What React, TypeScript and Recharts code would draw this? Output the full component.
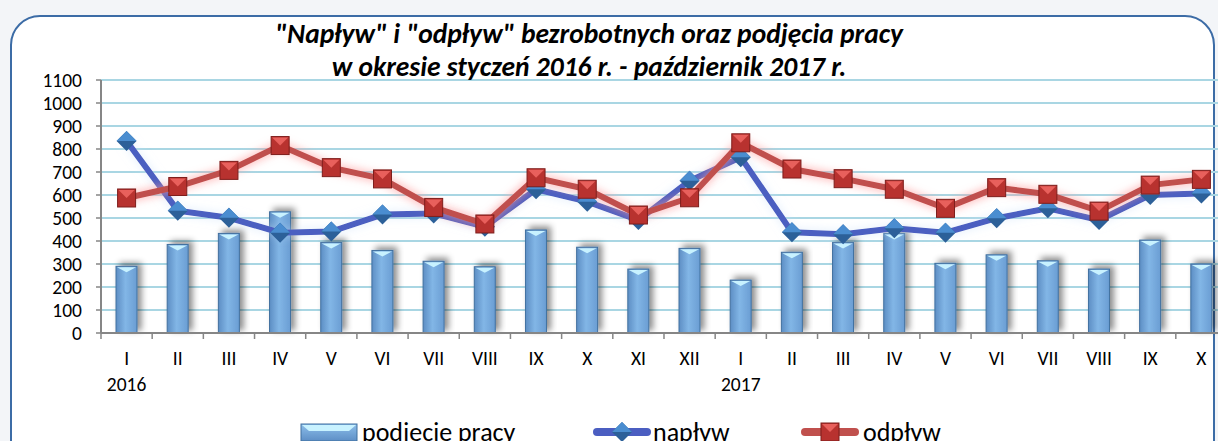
import React from "react";
import { ComposedChart, Bar, Line, XAxis, YAxis, CartesianGrid } from "recharts";

const months = ["I", "II", "III", "IV", "V", "VI", "VII", "VIII", "IX", "X", "XI", "XII",
  "I", "II", "III", "IV", "V", "VI", "VII", "VIII", "IX", "X"];
const years = ["2016", "", "", "", "", "", "", "", "", "", "", "",
  "2017", "", "", "", "", "", "", "", "", ""];
const podjecie = [290, 385, 433, 527, 394, 359, 312, 288, 448, 373, 278, 368,
  230, 351, 394, 433, 303, 340, 314, 278, 404, 300];
const naplyw = [835, 532, 501, 436, 441, 515, 520, 462, 625, 571, 491, 662,
  764, 438, 429, 455, 436, 499, 542, 491, 600, 607];
const odplyw = [587, 637, 707, 815, 719, 670, 546, 474, 675, 625, 513, 588,
  827, 713, 671, 625, 542, 632, 603, 530, 643, 668];
const yTicks = [0, 100, 200, 300, 400, 500, 600, 700, 800, 900, 1000, 1100];

const data = months.map((m, i) => ({
  m,
  year: years[i],
  podjecie: podjecie[i],
  naplyw: naplyw[i],
  odplyw: odplyw[i],
}));

const FONT = "Carlito, 'Liberation Sans', Arial, sans-serif";

function BarShape(props: any) {
  const { x, y, width, height } = props;
  if (!height || height <= 0) return <g />;
  const bev = 6;
  return (
    <g filter="url(#barShadow)">
      <rect x={x} y={y} width={width} height={height} fill="url(#barGrad)" stroke="#41709F" strokeWidth={1} />
      <polygon
        points={`${x + 1},${y + 1} ${x + width - 1},${y + 1} ${x + width / 2},${y + bev}`}
        fill="#C8F2FF"
      />
    </g>
  );
}

function Diamond(props: any) {
  const { cx, cy, index } = props;
  if (cx == null || cy == null) return <g key={`d${index}`} />;
  const r = 10;
  return (
    <g key={`d${index}`}>
      <polygon points={`${cx},${cy - r} ${cx + r},${cy} ${cx},${cy + r} ${cx - r},${cy}`} fill="#2C6099" />
      <polygon points={`${cx},${cy - r} ${cx + r},${cy} ${cx - r},${cy}`} fill="#4A8DD0" />
    </g>
  );
}

function Square(props: any) {
  const { cx, cy, index } = props;
  if (cx == null || cy == null) return <g key={`s${index}`} />;
  const r = 9;
  return (
    <g key={`s${index}`}>
      <rect x={cx - r} y={cy - r} width={2 * r} height={2 * r} fill="#B8322F" stroke="#7E1E1C" strokeWidth={1} />
      <polygon points={`${cx - r + 1},${cy - r + 1} ${cx + r - 1},${cy - r + 1} ${cx},${cy}`} fill="#E8605C" />
    </g>
  );
}

function MonthTick(props: any) {
  const { x, y, payload } = props;
  const i = payload.index;
  const half = 25.6;
  return (
    <g>
      <line x1={x - half} y1={y - 8} x2={x - half} y2={y - 2} stroke="#868686" strokeWidth={1.5} />
      <text x={x} y={y + 24} textAnchor="middle" fontSize={19.5} fontFamily={FONT} fill="#000">
        {payload.value}
      </text>
      {years[i] ? (
        <text x={x} y={y + 50} textAnchor="middle" fontSize={19.5} fontFamily={FONT} fill="#000">
          {years[i]}
        </text>
      ) : null}
    </g>
  );
}

function LegendIcon({ kind }: { kind: string }) {
  if (kind === "bar") {
    return (
      <svg width={58} height={20} style={{ display: "block" }}>
        <rect x={1} y={2} width={56} height={17} fill="url(#legBarGrad)" stroke="#41709F" />
        <polygon points="2,3 56,3 49,9 9,9" fill="#C8F2FF" />
        <defs>
          <linearGradient id="legBarGrad" x1="0" y1="0" x2="0" y2="1">
            <stop offset="0" stopColor="#8CBEEA" />
            <stop offset="1" stopColor="#5E8FC6" />
          </linearGradient>
        </defs>
      </svg>
    );
  }
  const color = kind === "nap" ? "#4B5EC1" : "#C0504D";
  return (
    <svg width={58} height={24} style={{ display: "block" }}>
      <line x1={4} y1={12} x2={54} y2={12} stroke={color} strokeWidth={8} strokeLinecap="round" />
      {kind === "nap" ? (
        <g>
          <polygon points="29,2 39,12 29,22 19,12" fill="#2C6099" />
          <polygon points="29,2 39,12 19,12" fill="#4A8DD0" />
        </g>
      ) : (
        <g>
          <rect x={20} y={3} width={18} height={18} fill="#B8322F" stroke="#7E1E1C" />
          <polygon points="21,4 37,4 29,12" fill="#E8605C" />
        </g>
      )}
    </svg>
  );
}

export default function App() {
  return (
    <div style={{ position: "absolute", left: 0, top: 0, width: 1218, height: 441, overflow: "hidden", background: "#F3F5F8" }}>
      <div
        style={{
          position: "absolute",
          left: 10,
          top: 15,
          width: 1205,
          height: 480,
          border: "2px solid #3C6CA6",
          borderRadius: 30,
          background: "#fff",
          boxSizing: "border-box",
        }}
      />
      <div style={{ position: "absolute", left: 0, top: 0 }}>
        <ComposedChart width={1240} height={441} data={data} margin={{ top: 80, right: 13, left: 0, bottom: 48 }}>
          <defs>
            <linearGradient id="barGrad" x1="0" y1="0" x2="1" y2="0">
              <stop offset="0" stopColor="#5D8EC4" />
              <stop offset="0.45" stopColor="#82B6E6" />
              <stop offset="1" stopColor="#6A9DD3" />
            </linearGradient>
            <filter id="barShadow" x="-50%" y="-20%" width="200%" height="140%">
              <feDropShadow dx={4} dy={-3} stdDeviation={3} floodColor="#000" floodOpacity={0.45} />
            </filter>
            <filter id="redGlow" x="-10%" y="-30%" width="120%" height="160%">
              <feGaussianBlur in="SourceGraphic" stdDeviation={5} result="b" />
              <feColorMatrix in="b" type="matrix" values="0 0 0 0 1  0 0 0 0 0.3  0 0 0 0 0.3  0 0 0 0.9 0" result="g" />
              <feMerge>
                <feMergeNode in="g" />
                <feMergeNode in="SourceGraphic" />
              </feMerge>
            </filter>
            <filter id="blueGlow" x="-10%" y="-30%" width="120%" height="160%">
              <feGaussianBlur in="SourceGraphic" stdDeviation={5} result="b" />
              <feColorMatrix in="b" type="matrix" values="0 0 0 0 0.6  0 0 0 0 0.75  0 0 0 0 0.95  0 0 0 0.6 0" result="g" />
              <feMerge>
                <feMergeNode in="g" />
                <feMergeNode in="SourceGraphic" />
              </feMerge>
            </filter>
          </defs>
          <CartesianGrid vertical={false} stroke="#A9D6E3" strokeWidth={2} />
          <XAxis
            dataKey="m"
            interval={0}
            height={60}
            tickLine={false}
            tick={<MonthTick />}
            axisLine={{ stroke: "#868686", strokeWidth: 2 }}
          />
          <YAxis
            domain={[0, 1100]}
            ticks={yTicks}
            interval={0}
            width={101}
            tickSize={5}
            tickMargin={14}
            tickLine={{ stroke: "#868686", strokeWidth: 1.5 }}
            axisLine={{ stroke: "#868686", strokeWidth: 2 }}
            tick={{ fontSize: 19.5, fontFamily: FONT, fill: "#000" }}
          />
          <Bar dataKey="podjecie" barSize={21} shape={<BarShape />} isAnimationActive={false} />
          <Line
            dataKey="naplyw"
            stroke="#4B5EC1"
            strokeWidth={6}
            dot={Diamond}
            activeDot={false}
            filter="url(#blueGlow)"
            isAnimationActive={false}
          />
          <Line
            dataKey="odplyw"
            stroke="#C0504D"
            strokeWidth={6}
            dot={Square}
            activeDot={false}
            filter="url(#redGlow)"
            isAnimationActive={false}
          />
        </ComposedChart>
      </div>
      <div
        style={{
          position: "absolute",
          left: 0,
          top: 17,
          width: 1178,
          textAlign: "center",
          fontFamily: FONT,
          fontWeight: "bold",
          fontStyle: "italic",
          fontSize: 27.5,
          lineHeight: "33px",
          color: "#000",
        }}
      >
        <div>"Napływ" i "odpływ" bezrobotnych oraz podjęcia pracy</div>
        <div>w okresie styczeń 2016 r. - październik 2017 r.</div>
      </div>
      <div
        style={{
          position: "absolute",
          left: 300,
          top: 418,
          display: "flex",
          alignItems: "center",
          fontFamily: FONT,
          fontSize: 26,
          lineHeight: "28px",
          whiteSpace: "nowrap",
        }}
      >
        <LegendIcon kind="bar" />
        <span style={{ marginLeft: 4, width: 231 }}>podjęcie pracy</span>
        <LegendIcon kind="nap" />
        <span style={{ marginLeft: 2, width: 148 }}>napływ</span>
        <LegendIcon kind="odp" />
        <span style={{ marginLeft: 4 }}>odpływ</span>
      </div>
    </div>
  );
}
